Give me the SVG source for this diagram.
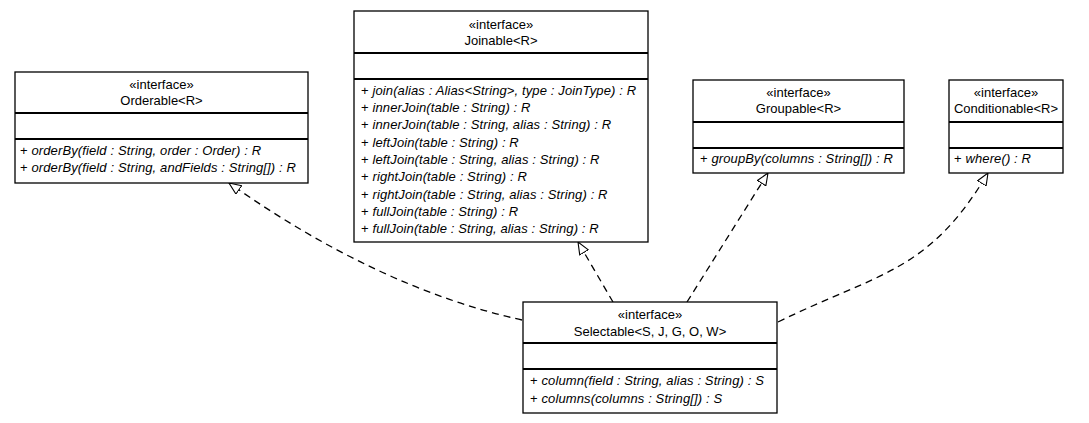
<svg xmlns="http://www.w3.org/2000/svg" width="1089" height="423" viewBox="0 0 1089 423">
<style>
.box{fill:#fff;stroke:#000;stroke-width:1.3}
.div{stroke:#000;stroke-width:1.8}
text{font-family:"Liberation Sans",Arial,sans-serif;font-size:13px;fill:#000}
.c{text-anchor:middle}
.m{letter-spacing:0.12px}
.i{font-style:italic}
.edge{fill:none;stroke:#000;stroke-width:1.3;stroke-dasharray:7,5}
</style>
<defs>
<marker id="tri" viewBox="0 0 13 11" refX="12.5" refY="5.5" markerWidth="13" markerHeight="11" markerUnits="userSpaceOnUse" orient="auto">
<path d="M0.5,0.5 L12.5,5.5 L0.5,10.5 Z" fill="#fff" stroke="#000" stroke-width="1.1" stroke-dasharray="none"/>
</marker>
</defs>
<rect width="1089" height="423" fill="#fff"/>

<g id="connectors">
<path class="edge" d="M522,320 Q378,288 229,183" marker-end="url(#tri)"/>
<path class="edge" d="M613,302 L578,242" marker-end="url(#tri)"/>
<path class="edge" d="M687,302 L768,173" marker-end="url(#tri)"/>
<path class="edge" d="M778,322 C880,272 928,273 988,173" marker-end="url(#tri)"/>
</g>

<g id="Orderable">
<rect class="box" x="15" y="72" width="293" height="111"/>
<line class="div" x1="15" y1="113" x2="308" y2="113"/>
<line class="div" x1="15" y1="139" x2="308" y2="139"/>
<text class="c" x="161.5" y="89">«interface»</text>
<text class="c" x="161.5" y="105">Orderable&lt;R&gt;</text>
<text class="m" x="20" y="154.5">+ <tspan class="i">orderBy(field : String, order : Order) : R</tspan></text>
<text class="m" x="20" y="171.8">+ <tspan class="i">orderBy(field : String, andFields : String[]) : R</tspan></text>
</g>

<g id="Joinable">
<rect class="box" x="354" y="11" width="294" height="231"/>
<line class="div" x1="354" y1="53" x2="648" y2="53"/>
<line class="div" x1="354" y1="79" x2="648" y2="79"/>
<text class="c" x="501" y="28.5">«interface»</text>
<text class="c" x="501" y="44.5">Joinable&lt;R&gt;</text>
<text class="m" x="361" y="94.5">+ <tspan class="i">join(alias : Alias&lt;String&gt;, type : JoinType) : R</tspan></text>
<text class="m" x="361" y="111.8">+ <tspan class="i">innerJoin(table : String) : R</tspan></text>
<text class="m" x="361" y="129.2">+ <tspan class="i">innerJoin(table : String, alias : String) : R</tspan></text>
<text class="m" x="361" y="146.5">+ <tspan class="i">leftJoin(table : String) : R</tspan></text>
<text class="m" x="361" y="163.8">+ <tspan class="i">leftJoin(table : String, alias : String) : R</tspan></text>
<text class="m" x="361" y="181.2">+ <tspan class="i">rightJoin(table : String) : R</tspan></text>
<text class="m" x="361" y="198.5">+ <tspan class="i">rightJoin(table : String, alias : String) : R</tspan></text>
<text class="m" x="361" y="215.8">+ <tspan class="i">fullJoin(table : String) : R</tspan></text>
<text class="m" x="361" y="233.2">+ <tspan class="i">fullJoin(table : String, alias : String) : R</tspan></text>
</g>

<g id="Groupable">
<rect class="box" x="693" y="80" width="211" height="93"/>
<line class="div" x1="693" y1="122" x2="904" y2="122"/>
<line class="div" x1="693" y1="148" x2="904" y2="148"/>
<text class="c" x="798.5" y="96.5">«interface»</text>
<text class="c" x="798.5" y="113">Groupable&lt;R&gt;</text>
<text class="m" x="700" y="163">+ <tspan class="i">groupBy(columns : String[]) : R</tspan></text>
</g>

<g id="Conditionable">
<rect class="box" x="949" y="80" width="114" height="93"/>
<line class="div" x1="949" y1="122" x2="1063" y2="122"/>
<line class="div" x1="949" y1="148" x2="1063" y2="148"/>
<text class="c" x="1006" y="96.5">«interface»</text>
<text class="c" x="1006" y="113">Conditionable&lt;R&gt;</text>
<text class="m" x="954" y="163">+ <tspan class="i">where() : R</tspan></text>
</g>

<g id="Selectable">
<rect class="box" x="523" y="302" width="254" height="111"/>
<line class="div" x1="523" y1="343" x2="777" y2="343"/>
<line class="div" x1="523" y1="369" x2="777" y2="369"/>
<text class="c" x="650" y="318.5">«interface»</text>
<text class="c" x="650" y="335.5">Selectable&lt;S, J, G, O, W&gt;</text>
<text class="m" x="530" y="385">+ <tspan class="i">column(field : String, alias : String) : S</tspan></text>
<text class="m" x="530" y="402.5">+ <tspan class="i">columns(columns : String[]) : S</tspan></text>
</g>
</svg>
